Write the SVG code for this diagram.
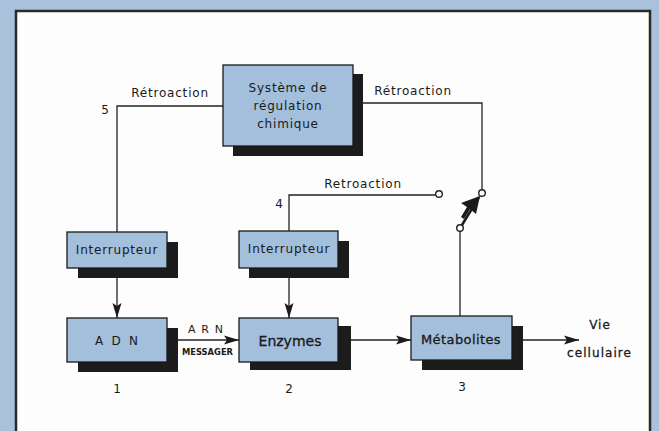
<svg xmlns="http://www.w3.org/2000/svg" width="659" height="431" viewBox="0 0 659 431">
<style>
.box{fill:#a3bfdc;stroke:#1a1a1a;stroke-width:1.3}
.sh{fill:#1c1c1c}
.ln{fill:none;stroke:#222;stroke-width:1.3}
.t{font-family:"DejaVu Sans","Liberation Sans",sans-serif;fill:#1a1a1a;text-anchor:middle}
.lbl{font-size:12px;letter-spacing:0.8px}
.nm{font-size:12px}
.semi{stroke:#1a1a1a;stroke-width:0.3}
.circ{fill:#fff;stroke:#222;stroke-width:1.4}
</style>
<defs>
<marker id="ah" markerWidth="16" markerHeight="10" refX="15" refY="5" orient="auto" markerUnits="userSpaceOnUse">
<path d="M0,0.5 L15,5 L0,9.5 L3,5 Z" fill="#1a1a1a"/>
</marker>
</defs>
<rect x="0" y="0" width="659" height="431" fill="#a9c1da"/>
<rect x="16" y="11" width="634" height="430" fill="#fdfdfd" stroke="#2a2a2a" stroke-width="2.5"/>

<g id="connectors">
<path class="ln" d="M223,106 H117 V232"/>
<path class="ln" d="M363,103 H482 V190"/>
<path class="ln" d="M289,231 V195 H436"/>
<circle class="circ" cx="439" cy="194" r="3.3"/>
<circle class="circ" cx="482" cy="193" r="3.3"/>
<circle class="circ" cx="460" cy="228" r="3.3"/>
<path class="ln" d="M460,231 V316"/>
<path d="M462,225 L479,197" stroke="#1a1a1a" stroke-width="2.5" fill="none"/>
<path d="M480,196 L476,214 L470,209 L464,219 L461,217 L467,207 L461,203 Z" fill="#1a1a1a"/>
<path class="ln" d="M117,278 V318" marker-end="url(#ah)"/>
<path class="ln" d="M289,278 V318" marker-end="url(#ah)"/>
<path class="ln" d="M178,340 H239" marker-end="url(#ah)"/>
<path class="ln" d="M351,340 H411" marker-end="url(#ah)"/>
<path class="ln" d="M523,340 H579" stroke-width="2" marker-end="url(#ah)"/>
<text class="t lbl" x="170" y="97">Rétroaction</text>
<text class="t lbl" x="413" y="95">Rétroaction</text>
<text class="t lbl" x="363" y="188">Retroaction</text>
<text class="t nm" x="105" y="114">5</text>
<text class="t nm" x="279" y="208">4</text>
<text class="t" x="188" y="333" style="font-size:11px;text-anchor:start" textLength="35" lengthAdjust="spacing">A R N</text>
<text class="t" x="182" y="355" style="font-size:8.5px;font-weight:bold;text-anchor:start" textLength="51" lengthAdjust="spacingAndGlyphs">MESSAGER</text>
</g>

<g id="systeme">
<rect class="sh" x="233" y="74" width="130" height="82"/>
<rect class="box" x="223" y="65" width="130" height="81"/>
<text class="t lbl" x="288" y="92">Système de</text>
<text class="t lbl" x="288" y="110">régulation</text>
<text class="t lbl" x="288" y="128">chimique</text>
</g>

<g id="interrupteur1">
<rect class="sh" x="78" y="242" width="100" height="36"/>
<rect class="box" x="67" y="232" width="100" height="36"/>
<text class="t lbl" x="117" y="254">Interrupteur</text>
</g>

<g id="interrupteur2">
<rect class="sh" x="249" y="241" width="100" height="37"/>
<rect class="box" x="239" y="231" width="99" height="37"/>
<text class="t lbl" x="289" y="253">Interrupteur</text>
</g>

<g id="adn">
<rect class="sh" x="78" y="328" width="100" height="44"/>
<rect class="box" x="67" y="318" width="100" height="44"/>
<text class="t" x="95" y="345" style="font-size:12px;text-anchor:start" textLength="43" lengthAdjust="spacing">A D N</text>
</g>

<g id="enzymes">
<rect class="sh" x="250" y="326" width="101" height="44"/>
<rect class="box" x="239" y="318" width="99" height="44"/>
<text class="t semi" x="290" y="346" style="font-size:14px">Enzymes</text>
</g>

<g id="metabolites">
<rect class="sh" x="422" y="326" width="101" height="44"/>
<rect class="box" x="411" y="316" width="101" height="44"/>
<text class="t semi" x="461" y="344" style="font-size:13px;letter-spacing:0.4px">Métabolites</text>
</g>

<g id="vie">
<text class="t semi" x="600" y="329" style="font-size:12px;letter-spacing:1px">Vie</text>
<text class="t semi" x="567" y="357" textLength="64" lengthAdjust="spacing" style="font-size:12px;text-anchor:start">cellulaire</text>
</g>

<g id="numbers">
<text class="t nm" x="117" y="393">1</text>
<text class="t nm" x="289" y="393">2</text>
<text class="t nm" x="462" y="391">3</text>
</g>
</svg>
